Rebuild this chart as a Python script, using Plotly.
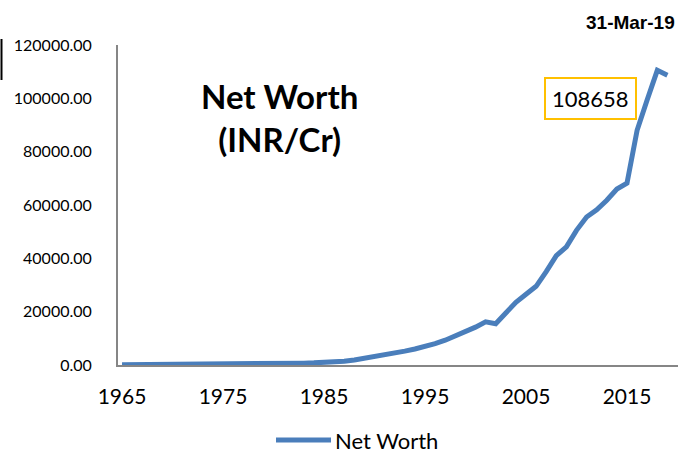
import plotly.graph_objects as go

years = list(range(1965, 2020))
net_worth = [50, 60, 70, 80, 90, 100, 120, 140, 160, 190,
             220, 260, 300, 350, 400, 450, 520, 600, 700, 800,
             950, 1100, 1400, 1900, 2500, 3100, 3800, 4500, 5200, 6000,
             6800, 8000, 9300, 10800, 12400, 14200, 16200, 15500, 19500, 23500,
             26500, 29500, 35000, 41000, 44300, 50500, 55500, 58200, 61800, 66000,
             68200, 88000, 99500, 110500, 108658]
x_ticks = [1965, 1975, 1985, 1995, 2005, 2015]
y_ticks = [0, 20000, 40000, 60000, 80000, 100000, 120000]

W, H = 678, 455
L, R, T, B = 118, 0, 45, 90
pw, ph = W - L - R, H - T - B
LINE_COLOR = "#4A7EBB"

def px(x):
    return (x - L) / pw

def py(y):
    return (H - B - y) / ph

fig = go.Figure()
fig.add_trace(go.Scatter(x=years, y=net_worth, mode="lines", name="Net Worth",
                         line=dict(color=LINE_COLOR, width=5)))

fig.update_layout(
    width=W, height=H,
    margin=dict(l=L, r=R, t=T, b=B, autoexpand=False),
    paper_bgcolor="white", plot_bgcolor="white",
    font=dict(family="Lato", color="black"),
    showlegend=False,
    xaxis=dict(range=[1964.6, 2020.05], tickvals=x_ticks, showgrid=False, zeroline=False,
               showline=True, linecolor="#868686", linewidth=2,
               tickfont=dict(size=21, family="Lato"), ticks="", ticklabelstandoff=12),
    yaxis=dict(range=[0, 120000], tickvals=y_ticks, tickformat=".2f", showgrid=False,
               zeroline=False, showline=True, linecolor="#868686", linewidth=2,
               tickfont=dict(size=16, family="Lato"), ticks="", ticklabelstandoff=21),
    annotations=[
        dict(text="<b>Net Worth</b><br><b>(INR/Cr)</b>", x=px(279), y=py(117),
             xref="paper", yref="paper", showarrow=False, xanchor="center", yanchor="middle",
             font=dict(size=33, family="Lato"), align="center"),
        dict(text="108658", x=px(590.5), y=py(99), xref="paper", yref="paper",
             showarrow=False, xanchor="center", yanchor="middle",
             font=dict(size=22, family="Lato"), bordercolor="#FFC000", borderwidth=2,
             borderpad=6, bgcolor="white"),
        dict(text="<b>31-Mar-19</b>", x=px(677), y=py(22), xref="paper", yref="paper",
             showarrow=False, xanchor="right", yanchor="middle",
             font=dict(size=19, family="Liberation Sans")),
        dict(text="Net Worth", x=px(333), y=py(440), xref="paper", yref="paper",
             showarrow=False, xanchor="left", yanchor="middle",
             font=dict(size=22, family="Lato")),
    ],
    shapes=[
        dict(type="line", xref="paper", yref="paper", x0=px(1.5), x1=px(1.5),
             y0=py(39), y1=py(80), line=dict(color="black", width=2)),
        dict(type="line", xref="paper", yref="paper", x0=px(276), x1=px(331),
             y0=py(440), y1=py(440), line=dict(color=LINE_COLOR, width=5)),
    ],
)

fig.write_html("out.html", config={"displayModeBar": False},
               post_script="document.body.style.margin='0';document.body.style.overflow='hidden';")
